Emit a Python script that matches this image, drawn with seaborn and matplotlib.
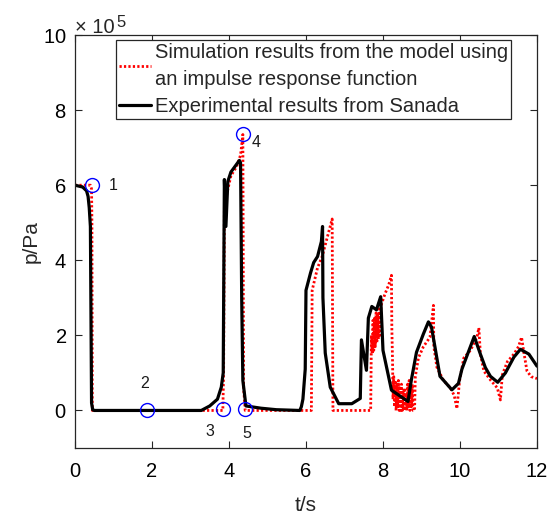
import numpy as np
import pandas as pd
import matplotlib
matplotlib.use("Agg")
import matplotlib.pyplot as plt
from matplotlib.ticker import ScalarFormatter
import seaborn as sns

# ---------------- data (p in units of 1e5 Pa) ----------------
t_exp = [0.00, 0.20, 0.30, 0.34, 0.37, 0.40, 0.43, 0.46, 0.50, 3.28, 3.50, 3.70, 3.80,
         3.85, 3.88, 3.92, 3.97, 4.05, 4.27, 4.30, 4.33, 4.36, 4.44, 4.83, 5.23, 5.84,
         5.88, 5.92, 5.98, 6.00, 6.12, 6.20, 6.30, 6.40, 6.43, 6.44, 6.50, 6.63, 6.85,
         7.19, 7.41, 7.44, 7.57, 7.62, 7.71, 7.83, 7.94, 8.00, 8.22, 8.65, 8.74, 8.87,
         9.05, 9.18, 9.26, 9.35, 9.48, 9.79, 9.96, 10.05, 10.37, 10.53, 10.66, 10.79,
         10.98, 11.18, 11.40, 11.57, 11.79, 12.00]
p_exp = [6.00, 5.95, 5.85, 5.70, 5.40, 4.90, 0.20, 0.02, 0.00, 0.00, 0.12, 0.30, 0.62,
         1.00, 6.15, 4.90, 6.10, 6.35, 6.66, 6.60, 3.00, 0.80, 0.12, 0.06, 0.02, 0.00,
         0.10, 0.30, 1.10, 3.20, 3.67, 3.94, 4.10, 4.50, 4.90, 3.00, 1.53, 0.62, 0.18,
         0.18, 0.32, 1.88, 1.07, 2.46, 2.77, 2.68, 3.03, 1.60, 0.54, 0.24, 0.83, 1.55,
         2.04, 2.36, 2.22, 1.69, 0.91, 0.55, 0.72, 1.10, 1.97, 1.50, 1.14, 0.91,
         0.75, 1.00, 1.42, 1.63, 1.50, 1.18]

t_sim = [0.00, 0.30, 0.40, 0.43, 0.44, 0.45, 3.84, 3.86, 3.88, 3.95, 4.05, 4.20, 4.30,
         4.36, 4.38, 4.42, 6.14, 6.16, 6.30, 6.42, 6.55, 6.68, 6.70, 7.68,
         7.70, 7.72, 7.74, 7.76, 7.78, 7.80, 7.82, 7.84, 7.86, 7.88, 7.90, 7.92, 7.95,
         8.05, 8.15, 8.22, 8.23, 8.25, 8.26, 8.28, 8.30, 8.32, 8.34, 8.36, 8.38, 8.40,
         8.42, 8.44, 8.46, 8.48, 8.50, 8.52, 8.54, 8.56, 8.58, 8.60, 8.62, 8.64, 8.66,
         8.68, 8.70, 8.72, 8.74, 8.76, 8.78, 8.82, 8.84, 8.92, 9.05, 9.22, 9.31, 9.32,
         9.40, 9.57, 9.75, 9.85, 9.92, 9.99, 10.10, 10.27, 10.44, 10.49, 10.53, 10.62,
         10.80, 10.97, 11.05, 11.10, 11.23, 11.40, 11.52, 11.60, 11.65, 11.74, 11.85, 12.00]
p_sim = [6.00, 6.00, 6.00, 5.90, 5.00, 0.00, 0.00, 1.00, 5.40, 5.80, 6.25, 6.50, 6.80,
         7.35, 0.60, 0.00, 0.00, 3.20, 3.80, 4.10, 4.60, 5.10, 0.00, 0.00,
         2.00, 1.50, 2.40, 1.60, 2.50, 1.70, 2.60, 1.80, 2.60, 1.90, 2.70, 2.00, 2.80,
         3.10, 3.35, 3.60, 2.20, 1.20, 0.30, 0.90, 0.10, 0.80, 0.00, 0.70, 0.10, 0.80,
         0.00, 0.60, 0.00, 0.70, 0.00, 0.50, 0.00, 0.60, 0.00, 0.40, 0.00, 0.70, 0.10,
         0.80, 0.00, 0.60, 0.10, 0.70, 0.00, 0.00, 0.90, 1.40, 1.70, 1.95, 2.80, 1.70,
         1.15, 0.80, 0.60, 0.40, 0.05, 0.80, 1.40, 1.60, 1.95, 2.20, 1.50, 1.05,
         0.80, 0.60, 0.28, 0.95, 1.30, 1.50, 1.70, 1.95, 1.60, 1.05, 0.90, 0.85]

pt_t = [0.44, 1.88, 3.85, 4.36, 4.42]
pt_p = [6.00, 0.00, 0.05, 7.37, 0.05]
pt_labels = ["1", "2", "3", "4", "5"]
lab_t = [1.00, 1.80, 3.50, 4.70, 4.47]
lab_p = [6.00, 0.72, -0.55, 7.15, -0.62]

SCALE = 1e5
sim_label = "Simulation results from the model using\nan impulse response function"
exp_label = "Experimental results from Sanada"

# ---------------- plot ----------------
sns.set_style("ticks")
plt.rcParams["font.family"] = ["Liberation Sans", "DejaVu Sans"]

fig = plt.figure(figsize=(5.47, 5.15), dpi=100)
ax = fig.add_axes([0.1371, 0.1301, 0.8446, 0.8019])

df_sim = pd.DataFrame({"t": t_sim, "p": np.array(p_sim) * SCALE})
df_exp = pd.DataFrame({"t": t_exp, "p": np.array(p_exp) * SCALE})

sns.lineplot(data=df_sim, x="t", y="p", sort=False, estimator=None, ax=ax,
             color="red", linewidth=2.0, linestyle=(0, (0.8, 0.8)), label=sim_label)
sns.lineplot(data=df_exp, x="t", y="p", sort=False, estimator=None, ax=ax,
             color="black", linewidth=2.3, label=exp_label)

ax.plot(pt_t, np.array(pt_p) * SCALE, linestyle="none", marker="o", markersize=10,
        markerfacecolor="none", markeredgecolor="blue", markeredgewidth=1.0)
for tx, ty, s in zip(lab_t, lab_p, pt_labels):
    ax.text(tx, ty * SCALE, s, fontsize=11.5, ha="center", va="center", color="#1a1a1a")

ax.set_xlim(0, 12)
ax.set_ylim(-1 * SCALE, 10 * SCALE)
ax.set_xticks(np.arange(0, 13, 2))
ax.set_yticks(np.arange(0, 11, 2) * SCALE)

fmt = ScalarFormatter(useMathText=True)
fmt.set_powerlimits((5, 5))
ax.yaxis.set_major_formatter(fmt)
ax.yaxis.get_offset_text().set_visible(False)
# exponent label in MATLAB style
ax.annotate("\u00d7 10", xy=(0, 1), xycoords="axes fraction", xytext=(0, 1.5),
            textcoords="offset points", fontsize=14.5, ha="left", va="baseline")
ax.annotate("5", xy=(0, 1), xycoords="axes fraction", xytext=(29.5, 5.5),
            textcoords="offset points", fontsize=12, ha="left", va="baseline")

ax.set_xlabel("t/s", fontsize=15, labelpad=11)
ax.set_ylabel("p/Pa", fontsize=15, labelpad=2)

for sp in ax.spines.values():
    sp.set_visible(True)
    sp.set_color("#262626")
    sp.set_linewidth(0.9)
ax.tick_params(direction="in", length=5, width=0.8, top=True, right=True,
               labelsize=14.5, colors="#262626", labelcolor="black")
ax.tick_params(axis="x", pad=10)
ax.tick_params(axis="y", pad=6)

leg = ax.legend(loc="upper right", bbox_to_anchor=(0.943, 0.989), borderaxespad=0,
                fontsize=14.5, frameon=True, fancybox=False, framealpha=1,
                edgecolor="#262626", handlelength=1.6, handletextpad=0.17,
                labelspacing=0.4, borderpad=0.15)
for txt in leg.get_texts():
    txt.set_linespacing(1.57)
leg.get_frame().set_linewidth(0.9)

fig.savefig("out.png", dpi=100)
